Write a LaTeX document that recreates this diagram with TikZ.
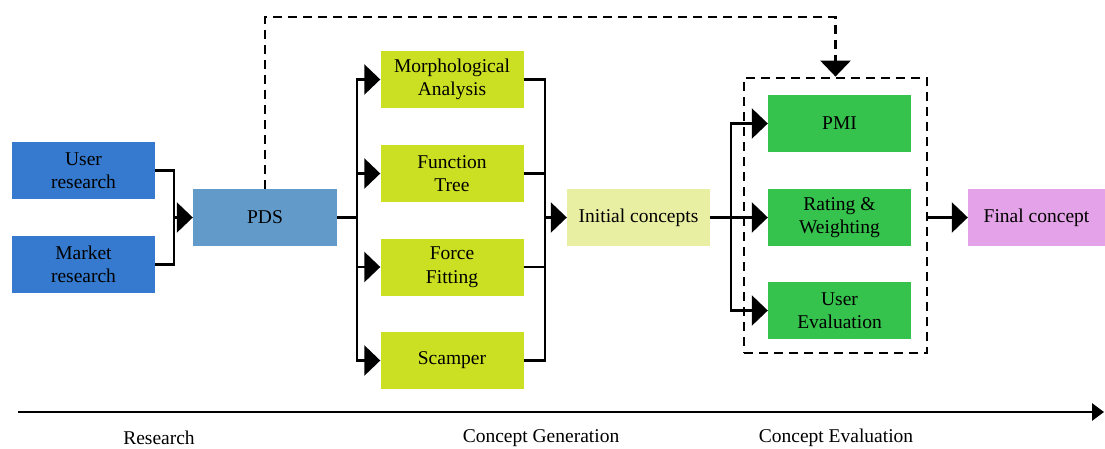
\documentclass[tikz,border=0pt]{standalone}
\usepackage{fontspec}
\setmainfont{Liberation Serif}
\usetikzlibrary{arrows.meta}
\definecolor{cblue}{RGB}{53,122,206}
\definecolor{cpds}{RGB}{98,154,201}
\definecolor{clime}{RGB}{203,224,34}
\definecolor{cinit}{RGB}{232,238,162}
\definecolor{cgreen}{RGB}{53,194,77}
\definecolor{cpink}{RGB}{228,163,232}
\tikzset{
  box/.style={rectangle, minimum width=143pt, minimum height=57pt, inner sep=0pt,
    align=center, font=\fontsize{19.5}{23.5}\selectfont},
  con/.style={line width=2.6pt},
  arr/.style={con, -{Triangle[length=16pt,width=30pt]}},
  lbl/.style={font=\fontsize{19.5}{23.5}\selectfont, inner sep=0pt}
}
\begin{document}
\begin{tikzpicture}[x=1pt,y=-1pt]
\useasboundingbox (0,0) rectangle (1105,448);
% research
\node[box, fill=cblue] (user) at (83.5,170.5) {User\\research};
\node[box, fill=cblue] (market) at (83.5,264.5) {Market\\research};
\node[box, fill=cpds, minimum width=144pt] (pds) at (265,217.5) {PDS};
% generation
\node[box, fill=clime] (morph) at (452,79.5) {Morphological\\Analysis};
\node[box, fill=clime] (func) at (452,173.5) {Function\\Tree};
\node[box, fill=clime] (force) at (452,267) {Force\\Fitting};
\node[box, fill=clime] (scamp) at (452,360.5) {Scamper};
\node[box, fill=cinit] (init) at (638.5,217.5) {Initial concepts};
% evaluation
\node[box, fill=cgreen] (pmi) at (839.5,123.5) {PMI};
\node[box, fill=cgreen] (rate) at (839.5,217.5) {Rating \&\\Weighting};
\node[box, fill=cgreen] (ueval) at (839.5,310.5) {User\\Evaluation};
\node[rectangle, draw, line width=2.8pt, dash pattern=on 9pt off 6pt,
  minimum width=183pt, minimum height=275pt, inner sep=0pt] (evalbox) at (835.5,215.5) {};
\node[box, fill=cpink, minimum width=137pt] (final) at (1036.5,217.5) {Final concept};
% bus coordinates
\coordinate (b1) at (174,217.5);
\coordinate (b2) at (357,217.5);
\coordinate (b3) at (545,217.5);
\coordinate (b4) at (731,217.5);
\coordinate (top) at (265,17);
% connectors
\draw[con] (user.east) -| (b1);
\draw[con] (market.east) -| (b1);
\draw[arr] (b1) -- (pds.west);
\draw[con] (pds.east) -- (b2);
\foreach \m in {morph,func,force,scamp}{
  \draw[arr] (b2) |- (\m.west);
  \draw[con] (\m.east) -| (b3);
}
\draw[arr] (b3) -- (init.west);
\draw[con] (init.east) -- (b4);
\foreach \m in {pmi,rate,ueval}{
  \draw[arr] (b4) |- (\m.west);
}
\draw[arr] (evalbox.east |- rate) -- (final.west);
\draw[arr, line width=2.8pt, dash pattern=on 9pt off 6pt] (pds.north) -- (top) -| (evalbox.north);
% timeline
\coordinate (t0) at (18,412);
\coordinate (t1) at (1104,412);
\draw[line width=2.8pt, -{Triangle[length=12pt,width=17pt]}] (t0) -- (t1);
\node[lbl] (lres) at (159,438) {Research};
\node[lbl] (lgen) at (541,438) {Concept Generation};
\node[lbl] (leval) at (836,438) {Concept Evaluation};
\end{tikzpicture}
\end{document}
